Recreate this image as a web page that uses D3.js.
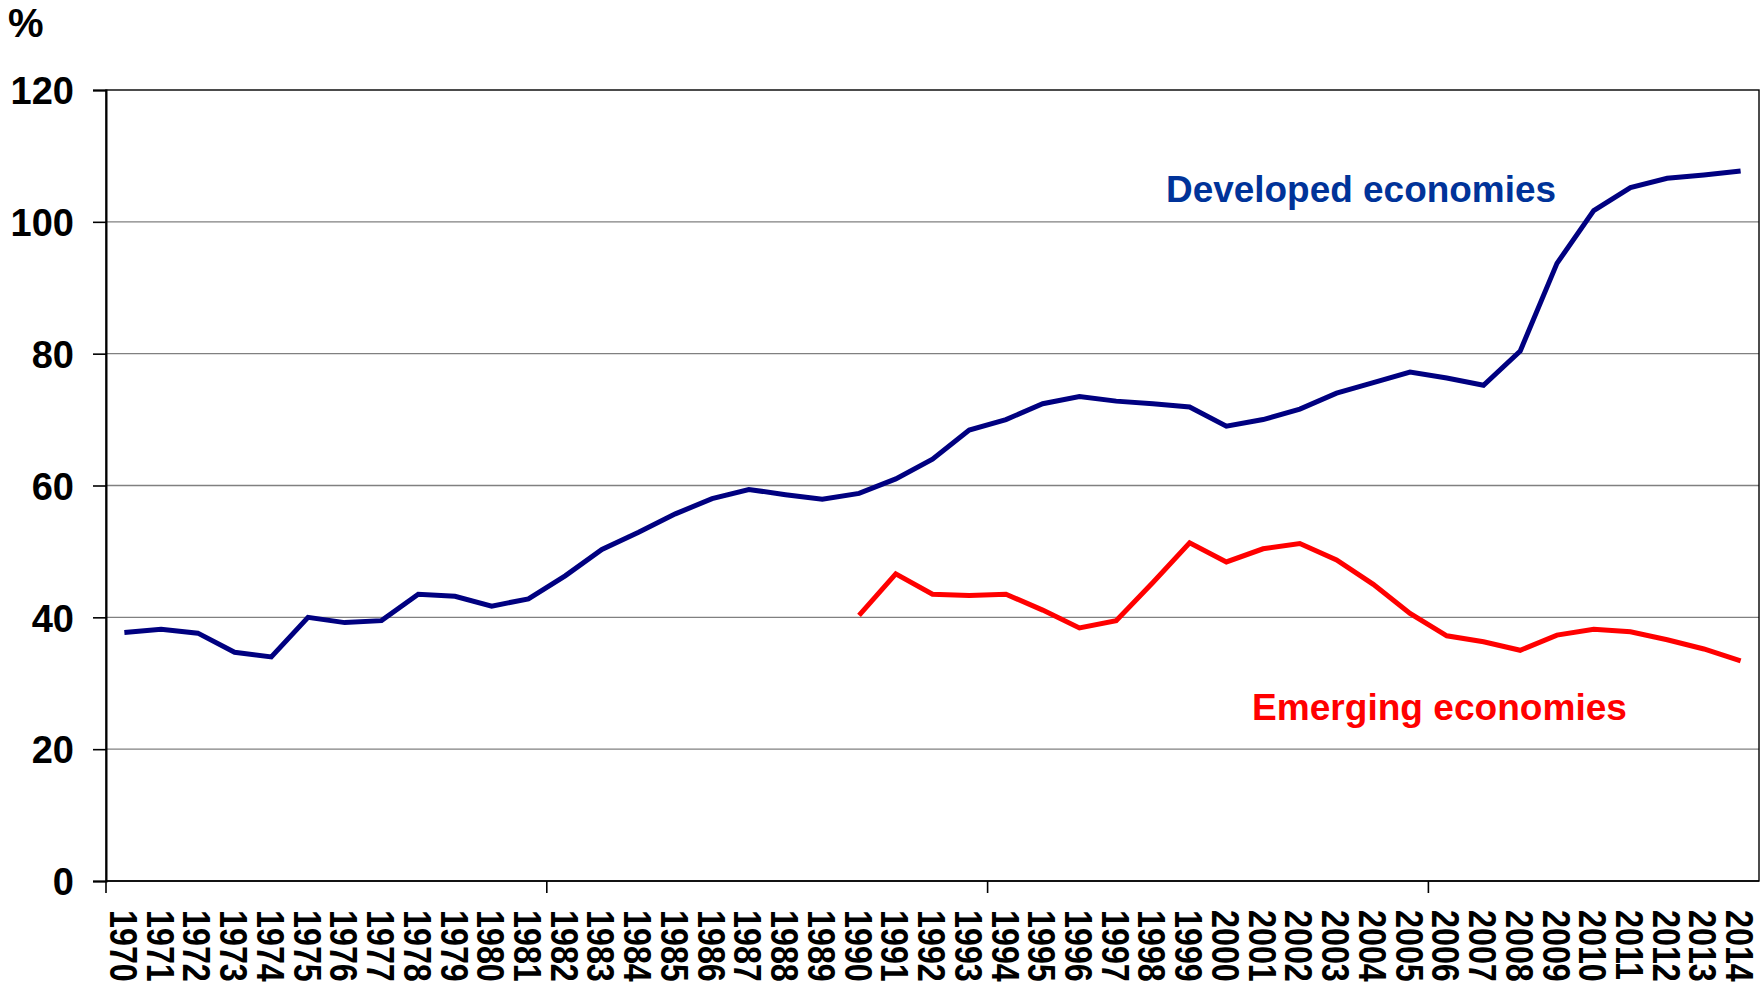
<!DOCTYPE html>
<html>
<head>
<meta charset="utf-8">
<script src="https://cdn.jsdelivr.net/npm/d3@7"></script>
<style>
  html, body { margin: 0; padding: 0; background: #fff; }
  svg { display: block; }
  text { font-family: "Liberation Sans", Arial, Helvetica, sans-serif; font-weight: bold; }
</style>
</head>
<body>
<svg id="chart" width="1761" height="991"></svg>
<script>
// Categories: one per year
const years = ["1970","1971","1972","1973","1974","1975","1976","1977","1978","1979",
  "1980","1981","1982","1983","1984","1985","1986","1987","1988","1989",
  "1990","1991","1992","1993","1994","1995","1996","1997","1998","1999",
  "2000","2001","2002","2003","2004","2005","2006","2007","2008","2009",
  "2010","2011","2012","2013","2014"];

// Developed economies, % (1970-2014)
const developed = [37.7, 38.2, 37.6, 34.7, 34.0, 40.0, 39.2, 39.5, 43.5, 43.2,
  41.7, 42.8, 46.3, 50.3, 52.9, 55.7, 58.0, 59.4, 58.6, 57.9,
  58.8, 61.0, 64.0, 68.4, 70.0, 72.4, 73.5, 72.8, 72.4, 71.9,
  69.0, 70.0, 71.6, 74.0, 75.6, 77.2, 76.3, 75.2, 80.4, 93.7,
  101.7, 105.2, 106.6, 107.1, 107.7];

// Emerging economies, % (series begins in 1990)
const emerging = [null, null, null, null, null, null, null, null, null, null,
  null, null, null, null, null, null, null, null, null, null,
  40.3, 46.6, 43.5, 43.3, 43.5, 41.1, 38.4, 39.5, 45.3, 51.3,
  48.4, 50.4, 51.2, 48.7, 45.0, 40.6, 37.2, 36.3, 35.0, 37.3,
  38.2, 37.8, 36.6, 35.2, 33.4];

const yTicks = [0, 20, 40, 60, 80, 100, 120];
const xTickYears = ["1970", "1982", "1994", "2006"];

const svg = d3.select("#chart");
const plot = { left: 106, right: 1759, top: 90, bottom: 881 };

const x = d3.scaleBand().domain(years).range([plot.left, plot.right]).padding(0);
const y = d3.scaleLinear().domain([0, 120]).range([plot.bottom, plot.top]);
const cx = d => x(d) + x.bandwidth() / 2;

// horizontal gridlines
svg.append("g")
  .selectAll("line")
  .data(yTicks.filter(v => v > 0 && v < 120))
  .join("line")
  .attr("x1", plot.left).attr("x2", plot.right)
  .attr("y1", d => y(d)).attr("y2", d => y(d))
  .attr("stroke", "#808080").attr("stroke-width", 1.4);

// plot frame
svg.append("rect")
  .attr("x", plot.left).attr("y", plot.top)
  .attr("width", plot.right - plot.left).attr("height", plot.bottom - plot.top)
  .attr("fill", "none").attr("stroke", "#000").attr("stroke-width", 1.4);

// y axis
const yAxis = svg.append("g")
  .attr("transform", `translate(${plot.left},0)`)
  .call(d3.axisLeft(y).tickValues(yTicks).tickSize(13).tickPadding(19).tickFormat(d3.format("d")));
yAxis.select(".domain").attr("stroke", "#000").attr("stroke-width", 2);
yAxis.selectAll(".tick line").attr("stroke", "#000").attr("stroke-width", 1.6);
yAxis.selectAll(".tick text")
  .attr("fill", "#000")
  .style("font-size", "38px")
  .attr("dy", "0.36em");

// x axis baseline and ticks between category groups
svg.append("line")
  .attr("x1", plot.left).attr("x2", plot.right)
  .attr("y1", plot.bottom).attr("y2", plot.bottom)
  .attr("stroke", "#000").attr("stroke-width", 1.6);
svg.append("g")
  .selectAll("line")
  .data(xTickYears)
  .join("line")
  .attr("x1", d => x(d)).attr("x2", d => x(d))
  .attr("y1", plot.bottom).attr("y2", plot.bottom + 12)
  .attr("stroke", "#000").attr("stroke-width", 1.6);

// x category labels, rotated to read downward and condensed along the text
svg.append("g")
  .selectAll("text")
  .data(years)
  .join("text")
  .attr("transform", d => `translate(${cx(d)},910) rotate(90) scale(0.85,1)`)
  .attr("dy", "0.38em")
  .attr("text-anchor", "start")
  .style("font-size", "38px")
  .attr("fill", "#000")
  .text(d => d);

// unit label
svg.append("text")
  .attr("x", 8).attr("y", 37)
  .style("font-size", "40px")
  .attr("fill", "#000")
  .text("%");

// series lines
const line = d3.line()
  .defined(d => d.v != null)
  .x(d => cx(d.year))
  .y(d => y(d.v));

const series = [
  { values: developed, color: "#000080" },
  { values: emerging, color: "#ff0000" }
];

svg.append("g")
  .selectAll("path")
  .data(series)
  .join("path")
  .attr("d", s => line(years.map((yr, i) => ({ year: yr, v: s.values[i] }))))
  .attr("fill", "none")
  .attr("stroke", s => s.color)
  .attr("stroke-width", 5)
  .attr("stroke-linejoin", "miter");

// series labels
svg.append("text")
  .attr("x", 1166).attr("y", 202)
  .attr("textLength", 390).attr("lengthAdjust", "spacingAndGlyphs")
  .style("font-size", "37px")
  .attr("fill", "#003399")
  .text("Developed economies");

svg.append("text")
  .attr("x", 1252).attr("y", 720)
  .attr("textLength", 375).attr("lengthAdjust", "spacingAndGlyphs")
  .style("font-size", "37px")
  .attr("fill", "#ff0000")
  .text("Emerging economies");
</script>
</body>
</html>
